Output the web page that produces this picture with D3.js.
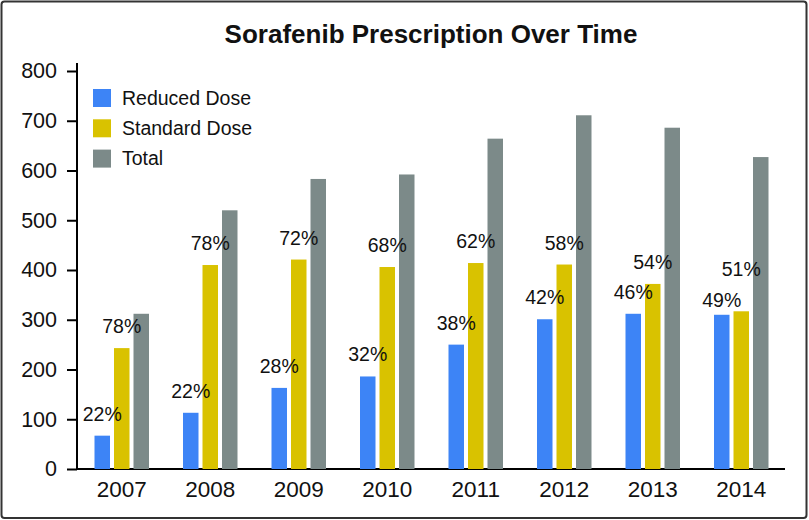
<!DOCTYPE html>
<html>
<head>
<meta charset="utf-8">
<script src="https://cdn.jsdelivr.net/npm/d3@7"></script>
<style>
  body { margin: 0; background: #fff; }
  svg text { font-family: "Liberation Sans", Arial, Helvetica, sans-serif; fill: #111; }
</style>
</head>
<body>
<div id="container"></div>
<script>
// Data
const years = ["2007", "2008", "2009", "2010", "2011", "2012", "2013", "2014"];
const series = ["Reduced Dose", "Standard Dose", "Total"];
const reduced = [67, 113, 163, 186, 250, 301, 312, 310];
const standard = [243, 410, 421, 406, 414, 411, 372, 317];
const total = [312, 520, 583, 592, 664, 711, 686, 627];
const reducedPct = ["22%", "22%", "28%", "32%", "38%", "42%", "46%", "49%"];
const standardPct = ["78%", "78%", "72%", "68%", "62%", "58%", "54%", "51%"];
const yTicks = [0, 100, 200, 300, 400, 500, 600, 700, 800];

const colors = ["#3d84f6", "#d9c200", "#7c8a89"];

const width = 809,
  height = 520;

const svg = d3.select("#container")
  .append("svg")
  .attr("width", width)
  .attr("height", height);

// Outer frame
svg.append("rect")
  .attr("x", 1.5).attr("y", 1.5)
  .attr("width", width - 4).attr("height", height - 3.5)
  .attr("rx", 3)
  .attr("fill", "#fff")
  .attr("stroke", "#333")
  .attr("stroke-width", 2);

// Title
svg.append("text")
  .attr("x", 431)
  .attr("y", 43)
  .attr("text-anchor", "middle")
  .style("font-size", "26px")
  .style("font-weight", "bold")
  .text("Sorafenib Prescription Over Time");

// Scales
const x = d3.scaleBand().domain(years).range([77.5, 785.5]);
const x1 = d3.scaleBand().domain(series).range([-27.25, 27.25]).paddingInner(0.205);
const y = d3.scaleLinear().domain([0, 800]).range([469, 71]);

// Y axis
const yAxis = svg.append("g")
  .attr("transform", "translate(77,0)")
  .call(d3.axisLeft(y).tickValues(yTicks).tickSize(10).tickPadding(10).tickSizeOuter(0));
yAxis.select(".domain").remove();
yAxis.selectAll(".tick line").attr("stroke", "#000").attr("stroke-width", 2);
yAxis.selectAll(".tick text").style("font-size", "21.5px").attr("fill", "#111");

svg.append("line")
  .attr("x1", 77).attr("x2", 77)
  .attr("y1", 63).attr("y2", 470)
  .attr("stroke", "#000").attr("stroke-width", 2);

// X axis
const xAxis = svg.append("g")
  .attr("transform", "translate(0,469)")
  .call(d3.axisBottom(x).tickSize(0).tickPadding(12));
xAxis.select(".domain").remove();
xAxis.selectAll(".tick text").style("font-size", "22.5px").attr("fill", "#111");

svg.append("line")
  .attr("x1", 76).attr("x2", 785)
  .attr("y1", 469).attr("y2", 469)
  .attr("stroke", "#000").attr("stroke-width", 2);

// Bars
const rows = years.map((yr, i) => ({
  year: yr,
  values: [reduced[i], standard[i], total[i]],
  redPct: reducedPct[i],
  stdPct: standardPct[i]
}));

const groups = svg.append("g")
  .selectAll("g.group")
  .data(rows)
  .join("g")
  .attr("class", "group")
  .attr("transform", d => `translate(${x(d.year) + x.bandwidth() / 2},0)`);

groups.selectAll("rect")
  .data(d => d.values.map((v, k) => ({ key: series[k], value: v, k })))
  .join("rect")
  .attr("x", d => x1(d.key))
  .attr("width", x1.bandwidth())
  .attr("y", d => y(d.value))
  .attr("height", d => y(0) - y(d.value))
  .attr("fill", d => colors[d.k]);

// Percent labels above reduced and standard bars
groups.each(function (d) {
  const g = d3.select(this);
  let redY = y(d.values[0]) - 15;
  let stdY = y(d.values[1]) - 15;
  // when the two labels would collide, stack the standard label higher
  if (Math.abs(y(d.values[0]) - y(d.values[1])) < 20) {
    redY = y(d.values[0]) - 8;
    stdY = redY - 31;
  }
  g.append("text")
    .attr("x", x1(series[0]) + x1.bandwidth() / 2)
    .attr("y", redY)
    .attr("text-anchor", "middle")
    .style("font-size", "19.5px")
    .text(d.redPct);
  g.append("text")
    .attr("x", x1(series[1]) + x1.bandwidth() / 2)
    .attr("y", stdY)
    .attr("text-anchor", "middle")
    .style("font-size", "19.5px")
    .text(d.stdPct);
});

// Legend
const legend = svg.append("g")
  .selectAll("g.legend")
  .data(series)
  .join("g")
  .attr("class", "legend")
  .attr("transform", (d, i) => `translate(93,${89 + i * 30.3})`);

legend.append("rect")
  .attr("width", 18)
  .attr("height", 18)
  .attr("fill", (d, i) => colors[i]);

legend.append("text")
  .attr("x", 29)
  .attr("y", 15.5)
  .style("font-size", "19.5px")
  .text(d => d);
</script>
</body>
</html>
